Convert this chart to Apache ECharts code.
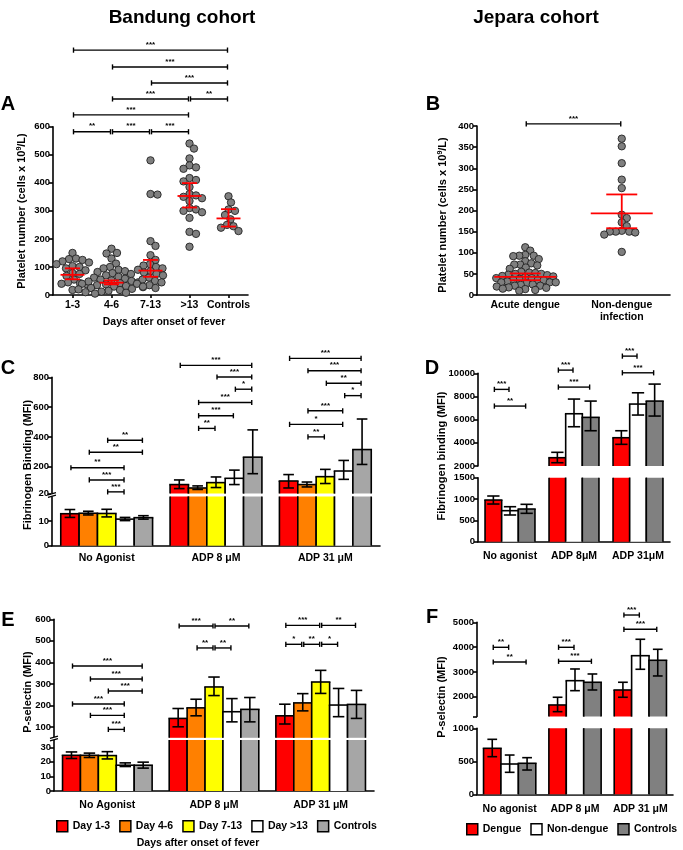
<!DOCTYPE html>
<html><head><meta charset="utf-8">
<script src="https://cdn.jsdelivr.net/npm/echarts@6/dist/echarts.min.js"></script>
<style>html,body{margin:0;padding:0;background:#fff}#c{width:683px;height:850px}</style>
</head><body><div id="c"></div>
<script>
// ---------------- DATA ----------------
const catsA = ['1-3', '4-6', '7-13', '>13', 'Controls'];
const ptsA13 = [150,130,128,125,120,116,110,103,100,95,88,78,75,68,55,45,42,40,38,18];
const ptsA46 = [165,150,148,130,112,100,95,90,85,82,78,75,70,65,62,58,55,52,50,48,45,42,40,38,35,32,30,28,25,22,20,18,15,12,10,8,5];
const ptsA713 = [480,360,358,192,175,142,125,110,105,100,95,90,85,80,75,70,62,55,50,45,40,35,30,25];
const ptsA13p = [540,522,487,462,455,450,417,410,405,385,360,355,350,345,335,310,305,300,295,275,225,218,172];
const ptsACtrl = [352,330,305,300,285,270,250,245,240,228];
const centerA = [72, 44, 87, 353, 273];
const lowA = [56, 38, 65, 312, 244];
const highA = [95, 52, 125, 399, 306];

const catsB = ['Acute dengue', 'Non-dengue\ninfection'];
const ptsBAcute = [113,105,95,93,93,92,85,80,75,72,72,70,65,62,55,53,52,50,50,48,47,45,44,42,40,40,38,36,35,35,32,30,30,30,28,25,24,22,22,20,18,17,15,14,12,10];
const ptsBNon = [370,352,312,273,253,190,182,172,163,152,150,150,150,148,143,102];
const centerB = [43, 193];
const lowB = [35, 158];
const highB = [51, 238];

const groupsC = ['No Agonist', 'ADP 8 \u03bcM', 'ADP 31 \u03bcM'];
const groupsD = ['No agonist', 'ADP 8\u03bcM', 'ADP 31\u03bcM'];
const groupsE = ['No Agonist', 'ADP 8 \u03bcM', 'ADP 31 \u03bcM'];
const groupsF = ['No agonist', 'ADP 8 \u03bcM', 'ADP 31 \u03bcM'];
const namesCE = ['Day 1-3', 'Day 4-6', 'Day 7-13', 'Day >13', 'Controls'];
const namesDF = ['Dengue', 'Non-dengue', 'Controls'];

// Fibrinogen binding, Bandung (rows = day group, cols = No agonist, ADP 8, ADP 31)
const fibC    = [[13.0, 80, 104], [13.2, 57, 80], [13.1, 93, 133], [10.8, 122, 171], [11.4, 264, 315]];
const fibCLow = [[11.5, 53, 57],  [12.5, 47, 64], [11.7, 60, 87],  [10.2, 80, 115],  [10.8, 153, 215]];
const fibCHigh= [[14.7, 111, 147],[14.0, 71, 97], [14.8, 131, 182],[11.5, 177, 242], [12.2, 447, 520]];
// Fibrinogen binding, Jepara
const fibD    = [[977, 2716, 4440], [727, 6509, 7345], [766, 6198, 7603]];
const fibDLow = [[883, 2284, 3871], [626, 5388, 6397], [665, 5043, 6310]];
const fibDHigh= [[1071, 3181, 5043],[820, 7776, 8319], [876, 7603, 9069]];
// P-selectin, Bandung
const pselE    = [[24.5, 140, 152], [24.5, 189, 212], [24.3, 286, 309], [17.7, 171, 202], [17.7, 182, 205]];
const pselELow = [[22.3, 101, 114], [23.0, 152, 175], [22.0, 246, 256], [16.8, 124, 148], [15.7, 124, 140]];
const pselEHigh= [[26.8, 186, 206], [26.0, 229, 255], [27.0, 332, 363], [19.3, 232, 279], [19.8, 237, 270]];
// P-selectin, Jepara
const pselF    = [[697, 1665, 2270], [459, 2645, 3653], [470, 2581, 3468]];
const pselFLow = [[570, 1395, 1976], [333, 2242, 3105], [368, 2270, 2835]];
const pselFHigh= [[833, 1976, 2581], [595, 3117, 4315], [555, 2915, 3911]];

// significance brackets: [fromCat, fromBar, toCat, toBar, level, label]
const sigA = [[0,0,4,0,873,'***'],[1,0,4,0,813,'***'],[2,0,4,0,756,'***'],[1,0,3,0,699,'***'],[3,0,4,0,699,'**'],
              [0,0,3,0,642,'***'],[0,0,1,0,582,'**'],[1,0,2,0,582,'***'],[2,0,3,0,582,'***']];
const sigB = [[0,0,1,0,405,'***']];
const sigC = [[0,2,0,4,377,'**'],[0,1,0,4,297,'**'],[0,0,0,3,193,'**'],[0,1,0,3,111,'***'],[0,2,0,3,31,'***'],
              [1,0,1,4,880,'***'],[1,2,1,4,802,'***'],[1,3,1,4,720,'*'],[1,1,1,4,631,'***'],[1,1,1,3,542,'***'],[1,1,1,2,457,'**'],
              [2,0,2,4,927,'***'],[2,1,2,4,844,'***'],[2,2,2,4,760,'**'],[2,3,2,4,677,'*'],[2,1,2,3,575,'***'],[2,0,2,3,484,'*'],[2,1,2,2,400,'**']];
const sigD = [[0,0,0,1,8612,'***'],[0,0,0,2,7172,'**'],[1,0,1,1,10276,'***'],[1,0,1,2,8810,'***'],[2,0,2,1,11483,'***'],[2,0,2,2,10043,'***']];
const sigE = [[0,0,0,4,383,'***'],[0,1,0,4,323,'***'],[0,2,0,4,267,'***'],[0,0,0,3,207,'***'],[0,1,0,3,154,'***'],[0,2,0,3,89,'***'],
              [1,0,1,2,569,'***'],[1,2,1,4,569,'**'],[1,1,1,2,467,'**'],[1,2,1,3,467,'**'],
              [2,0,2,2,572,'***'],[2,2,2,4,572,'**'],[2,0,2,1,484,'*'],[2,1,2,2,484,'**'],[2,2,2,3,484,'*']];
const sigF = [[0,0,0,1,3992,'**'],[0,0,0,2,3399,'**'],[1,0,1,1,3992,'***'],[1,0,1,2,3427,'***'],[2,0,2,1,5294,'***'],[2,0,2,2,4718,'***']];

// ---------------- STYLE ----------------
const FONT = '"Liberation Sans", Arial, sans-serif';
const colorsCE = ['#ff0000', '#ff8000', '#ffff00', '#ffffff', '#a6a6a6'];
const colorsDF = ['#ff0000', '#ffffff', '#808080'];
const LW = 1.6;

const chart = echarts.init(document.getElementById('c'), null, {renderer: 'canvas'});

const gridBoxes = [
  [53, 126.7, 195, 168.3],   // A
  [477, 126, 193, 169],      // B
  [52, 377.3, 328, 116.2],   // C upper
  [52, 496.5, 328, 49.2],    // C lower
  [478, 373.3, 192, 92.7],   // D upper
  [478, 477.7, 192, 64],     // D lower
  [54, 619.3, 320, 118.5],   // E upper
  [54, 740, 320, 51],        // E lower
  [477, 622.3, 196, 94.2],   // F upper
  [477, 728.3, 196, 66]      // F lower
];
const grid = gridBoxes.map(b => ({left: b[0], top: b[1], width: b[2], height: b[3], outerBoundsMode: 'none', containLabel: false}));

function xAx(g, data, show, margin, ticks) {
  return {type: 'category', gridIndex: g, data: data, show: show,
    axisLine: {show: true, onZero: false, lineStyle: {color: '#000', width: LW}},
    axisTick: {show: !!ticks, alignWithLabel: true, length: 3, lineStyle: {color: '#000', width: LW}},
    axisLabel: {color: '#000', fontWeight: 'bold', fontSize: 10.5, fontFamily: FONT, margin: margin, interval: 0, lineHeight: 12},
    splitLine: {show: false}};
}
function yAx(g, min, max, labels, ticks) {
  return {type: 'value', gridIndex: g, min: min, max: max,
    axisLine: {show: true, lineStyle: {color: '#000', width: LW}},
    axisTick: {show: true, length: 4, lineStyle: {color: '#000', width: LW}, customValues: ticks || labels},
    axisLabel: {color: '#000', fontWeight: 'bold', fontSize: 9.5, fontFamily: FONT, margin: 3, customValues: labels,
      formatter: v => String(v)},
    splitLine: {show: false}};
}
const xAxis = [
  xAx(0, catsA, true, 4, true), xAx(1, catsB, true, 4, false),
  xAx(2, groupsC, false, 6), xAx(3, groupsC, true, 6),
  xAx(4, groupsD, false, 8), xAx(5, groupsD, true, 8),
  xAx(6, groupsE, false, 8), xAx(7, groupsE, true, 8),
  xAx(8, groupsF, false, 9), xAx(9, groupsF, true, 9)
];
const yAxis = [
  yAx(0, 0, 600, [0,100,200,300,400,500,600]),
  yAx(1, 0, 400, [0,50,100,150,200,250,300,350,400]),
  yAx(2, 20, 800, [20,200,400,600,800]),
  yAx(3, 0, 20, [0,10]),
  yAx(4, 2000, 10000, [2000,4000,6000,8000,10000]),
  yAx(5, 0, 1500, [0,500,1000,1500]),
  yAx(6, 50, 600, [100,200,300,400,500,600]),
  yAx(7, 0, 35, [0,10,20,30]),
  yAx(8, 1200, 5000, [2000,3000,4000,5000], [1200,2000,3000,4000,5000]),
  yAx(9, 0, 1000, [0,500,1000])
];

function ln(x1, y1, x2, y2, color, w) {
  return {type: 'line', shape: {x1: x1, y1: y1, x2: x2, y2: y2}, style: {stroke: color || '#000', lineWidth: w || LW}};
}

// beeswarm layout in pixel space
function swarm(ys, d) {
  const order = ys.map((y, i) => i).sort((a, b) => ys[a] - ys[b]);
  const placed = [];
  const dx = new Array(ys.length).fill(0);
  order.forEach(i => {
    for (let s = 0; s < 400; s++) {
      const c = s === 0 ? 0 : (s % 2 ? 1 : -1) * Math.ceil(s / 2) * 0.5;
      let ok = true;
      for (const p of placed) {
        if ((p.x - c) * (p.x - c) + (p.y - ys[i]) * (p.y - ys[i]) < d * d) { ok = false; break; }
      }
      if (ok) { dx[i] = c; placed.push({x: c, y: ys[i]}); break; }
    }
  });
  return dx;
}

function swarmSeries(g, groups, r, d) {
  const data = [];
  groups.forEach((arr, c) => arr.forEach(v => data.push([c, v])));
  return {type: 'custom', xAxisIndex: g, yAxisIndex: g, data: data, clip: false, silent: true, z: 2,
    renderItem: function (params, api) {
      const ctx = params.context;
      if (!ctx.dx) {
        ctx.dx = [];
        groups.forEach((arr, c) => {
          const ys = arr.map(v => api.coord([c, v])[1]);
          ctx.dx = ctx.dx.concat(swarm(ys, d));
        });
      }
      const p = api.coord([api.value(0), api.value(1)]);
      return {type: 'circle', shape: {cx: p[0] + ctx.dx[params.dataIndex], cy: p[1], r: r},
        style: {fill: '#7f7f7f', stroke: '#222', lineWidth: 0.9}};
    }};
}

function meanSeries(g, centers, lows, highs, halfW, capHalf) {
  return {type: 'custom', xAxisIndex: g, yAxisIndex: g, clip: false, silent: true, z: 3,
    data: centers.map((c, i) => [i, c, lows[i], highs[i]]),
    renderItem: function (params, api) {
      const i = api.value(0);
      const pc = api.coord([i, api.value(1)]), pl = api.coord([i, api.value(2)]), ph = api.coord([i, api.value(3)]);
      const col = '#ff0000';
      return {type: 'group', children: [
        ln(pc[0] - halfW, pc[1], pc[0] + halfW, pc[1], col, 1.8),
        ln(pc[0], pl[1], pc[0], ph[1], col, 1.8),
        ln(pc[0] - capHalf, pl[1], pc[0] + capHalf, pl[1], col, 1.8),
        ln(pc[0] - capHalf, ph[1], pc[0] + capHalf, ph[1], col, 1.8)
      ]};
    }};
}

function barSeries(name, k, n, frac, capFrac, g, vals, lows, highs, yMin, yMax, color) {
  return {type: 'custom', name: name, xAxisIndex: g, yAxisIndex: g, clip: false, silent: true, z: 2,
    itemStyle: {color: color},
    data: vals.map((v, i) => [i, v, lows[i], highs[i]]),
    renderItem: function (params, api) {
      const i = api.value(0), v = api.value(1), lo = api.value(2), hi = api.value(3);
      if (!(v > yMin)) return null;
      const catW = api.size([1, 0])[0];
      const bw = catW * frac / n;
      const base = api.coord([i, yMin]);
      const cx = base[0] + (k - (n - 1) / 2) * bw;
      const yb = base[1];
      const yt = api.coord([i, Math.min(v, yMax)])[1];
      const x0 = cx - bw / 2, x1 = cx + bw / 2;
      const ch = [
        {type: 'rect', shape: {x: x0, y: yt, width: bw, height: yb - yt}, style: {fill: color}},
        ln(x0, yb, x0, yt), ln(x1, yb, x1, yt)
      ];
      if (v <= yMax) {
        ch.push(ln(x0 - LW / 2, yt, x1 + LW / 2, yt));
        const yl = api.coord([i, lo])[1], yh = api.coord([i, hi])[1], cap = bw * capFrac;
        ch.push(ln(cx, yl, cx, yh), ln(cx - cap, yl, cx + cap, yl), ln(cx - cap, yh, cx + cap, yh));
      }
      return {type: 'group', children: ch};
    }};
}

function barPanel(gUp, gLo, names, colors, vals, lows, highs, frac, capFrac, upMin, upMax, loMax) {
  const out = [];
  names.forEach((nm, k) => {
    out.push(barSeries(nm, k, names.length, frac, capFrac, gLo, vals[k], lows[k], highs[k], 0, loMax, colors[k]));
    out.push(barSeries(nm, k, names.length, frac, capFrac, gUp, vals[k], lows[k], highs[k], upMin, upMax, colors[k]));
  });
  return out;
}

function sigSeries(g, n, frac, sig) {
  return {type: 'custom', xAxisIndex: g, yAxisIndex: g, clip: false, silent: true, z: 5,
    data: sig.map(s => [s[0], s[4]]),
    renderItem: function (params, api) {
      const s = sig[params.dataIndex];
      const catW = api.size([1, 0])[0];
      const bw = catW * frac / n;
      const pa = api.coord([s[0], s[4]]), pb = api.coord([s[2], s[4]]);
      const xa = pa[0] + (s[1] - (n - 1) / 2) * bw + 1;
      const xb = pb[0] + (s[3] - (n - 1) / 2) * bw - 1;
      const y = pa[1];
      return {type: 'group', children: [
        ln(xa, y, xb, y, '#000', 1.4), ln(xa, y - 2.6, xa, y + 2.6, '#000', 1.4), ln(xb, y - 2.6, xb, y + 2.6, '#000', 1.4),
        {type: 'text', x: (xa + xb) / 2, y: y - 1.5,
          style: {text: s[5], fontSize: 8, fontWeight: 'bold', fontFamily: FONT, fill: '#000', textAlign: 'center', textVerticalAlign: 'bottom'}}
      ]};
    }};
}

function breakMark(g, yVal) {
  return {type: 'custom', xAxisIndex: g, yAxisIndex: g, clip: false, silent: true, z: 6, data: [[0, yVal]],
    renderItem: function (params, api) {
      const p = api.coord([0, yVal]);
      const x = p[0] - api.size([1, 0])[0] / 2;
      const y = p[1] - 1.5;
      return {type: 'group', children: [
        {type: 'rect', shape: {x: x - 1, y: y - 1.5, width: 2, height: 3}, style: {fill: '#fff'}},
        ln(x - 4, y - 0.2, x + 4, y - 2.4, '#000', 1.2),
        ln(x - 4, y + 2.4, x + 4, y + 0.2, '#000', 1.2)
      ]};
    }};
}

const series = [].concat(
  [swarmSeries(0, [ptsA13, ptsA46, ptsA713, ptsA13p, ptsACtrl], 3.7, 6.6),
   meanSeries(0, centerA, lowA, highA, 12, 7.5),
   sigSeries(0, 1, 1, sigA),
   swarmSeries(1, [ptsBAcute, ptsBNon], 3.7, 6),
   meanSeries(1, centerB, lowB, highB, 31, 15.5),
   sigSeries(1, 1, 1, sigB)],
  barPanel(2, 3, namesCE, colorsCE, fibC, fibCLow, fibCHigh, 0.84, 0.29, 20, 800, 20),
  [sigSeries(2, 5, 0.84, sigC), breakMark(3, 20)],
  barPanel(4, 5, namesDF, colorsDF, fibD, fibDLow, fibDHigh, 0.78, 0.37, 2000, 10000, 1500),
  [sigSeries(4, 3, 0.78, sigD)],
  barPanel(6, 7, namesCE, colorsCE, pselE, pselELow, pselEHigh, 0.84, 0.32, 50, 600, 35),
  [sigSeries(6, 5, 0.84, sigE), breakMark(7, 35)],
  barPanel(8, 9, namesDF, colorsDF, pselF, pselFLow, pselFHigh, 0.8, 0.28, 1200, 5000, 1000),
  [sigSeries(8, 3, 0.8, sigF)]
);

function txt(x, y, text, size, rot, extra) {
  const el = {type: 'text', x: x, y: y, rotation: rot || 0, silent: true,
    style: Object.assign({text: text, fontSize: size, fontWeight: 'bold', fontFamily: FONT, fill: '#000',
      textAlign: 'center', textVerticalAlign: 'middle'}, extra || {})};
  return el;
}
const supRich = {rich: {s: {fontSize: 7, fontWeight: 'bold', fontFamily: FONT, verticalAlign: 'top', padding: [0, 0, 5, 0]}}};
const graphic = [
  txt(182, 18, 'Bandung cohort', 19),
  txt(536, 18, 'Jepara cohort', 19),
  txt(8, 104, 'A', 20), txt(433, 104, 'B', 20),
  txt(8, 368, 'C', 20), txt(432, 368, 'D', 20),
  txt(8, 620, 'E', 20), txt(432, 617, 'F', 20),
  txt(22, 211, 'Platelet number (cells x 10{s|9}/L)', 11, Math.PI / 2, supRich),
  txt(443, 215, 'Platelet number (cells x 10{s|9}/L)', 11, Math.PI / 2, supRich),
  txt(164, 322, 'Days after onset of fever', 10.5),
  txt(28, 465, 'Fibrinogen Binding (MFI)', 11, Math.PI / 2),
  txt(442, 456, 'Fibrinogen binding (MFI)', 11, Math.PI / 2),
  txt(28, 692, 'P-selectin (MFI)', 11, Math.PI / 2),
  txt(442, 697, 'P-selectin (MFI)', 11, Math.PI / 2),
  txt(198, 843, 'Days after onset of fever', 10.5)
];

function legendData(names, colors) {
  return names.map((n, i) => ({name: n, icon: 'rect', itemStyle: {color: colors[i], borderColor: '#000', borderWidth: 1.5}}));
}
const legend = [
  {data: legendData(namesCE, colorsCE), left: 56, top: 820, padding: 0, itemWidth: 11, itemHeight: 11, itemGap: 9, selectedMode: false,
   textStyle: {color: '#000', fontWeight: 'bold', fontSize: 10.5, fontFamily: FONT}},
  {data: legendData(namesDF, colorsDF), left: 466, top: 823, padding: 0, width: 230, itemWidth: 11, itemHeight: 11, itemGap: 9, selectedMode: false,
   textStyle: {color: '#000', fontWeight: 'bold', fontSize: 10.5, fontFamily: FONT}}
];

chart.setOption({animation: false, backgroundColor: '#fff', grid: grid, xAxis: xAxis, yAxis: yAxis,
  series: series, graphic: graphic, legend: legend, tooltip: {show: false}});
</script></body></html>
